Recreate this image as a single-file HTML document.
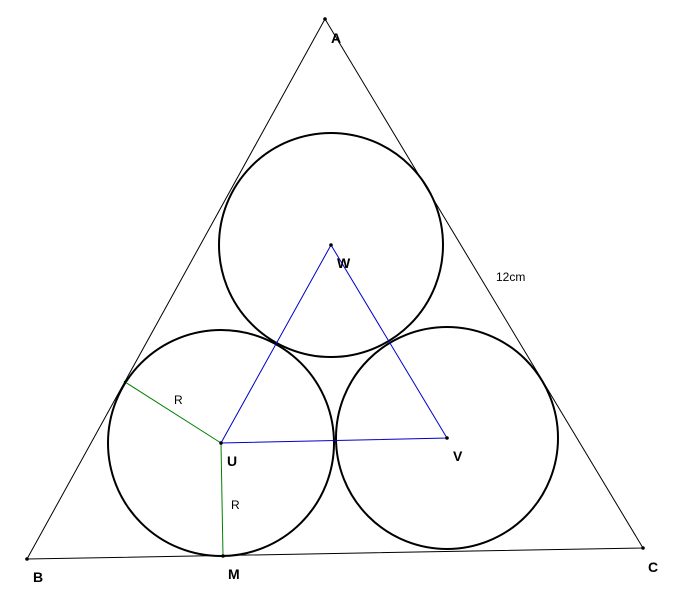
<!DOCTYPE html>
<html><head><meta charset="utf-8"><style>
html,body{margin:0;padding:0;background:#fff;}
svg{display:block;}
text{font-family:"Liberation Sans",sans-serif;}
.b{font-weight:bold;font-size:14px;}
.n{font-size:12px;}
</style></head><body>
<svg width="676" height="603" viewBox="0 0 676 603">
<polygon points="325,19 27,559 643,548" fill="none" stroke="#000" stroke-width="1"/>
<circle cx="331" cy="245" r="112" fill="none" stroke="#000" stroke-width="2"/>
<circle cx="221" cy="443" r="113" fill="none" stroke="#000" stroke-width="2"/>
<circle cx="447" cy="438" r="111" fill="none" stroke="#000" stroke-width="2"/>
<polygon points="331,245 221,443 447,438" fill="none" stroke="#0000cc" stroke-width="1"/>
<line x1="221" y1="443" x2="125" y2="382" stroke="#008000" stroke-width="1"/>
<line x1="221" y1="443" x2="223" y2="556" stroke="#008000" stroke-width="1"/>
<g fill="#000">
<circle cx="325" cy="19" r="1.8"/><circle cx="27" cy="559" r="1.8"/><circle cx="643" cy="548" r="1.8"/>
<circle cx="331" cy="245" r="1.8"/><circle cx="221" cy="443" r="1.8"/><circle cx="447" cy="438" r="1.8"/>
<circle cx="223" cy="556" r="1.8"/><circle cx="125" cy="382" r="1.2"/>
</g>
<text class="b" x="331" y="43">A</text>
<text class="b" x="337" y="268">W</text>
<text class="n" x="496" y="281">12cm</text>
<text class="n" x="174" y="404">R</text>
<text class="n" x="231" y="509">R</text>
<text class="b" x="227" y="466">U</text>
<text class="b" x="453" y="461">V</text>
<text class="b" x="33" y="582">B</text>
<text class="b" x="228" y="579">M</text>
<text class="b" x="648" y="572">C</text>
</svg>
</body></html>
